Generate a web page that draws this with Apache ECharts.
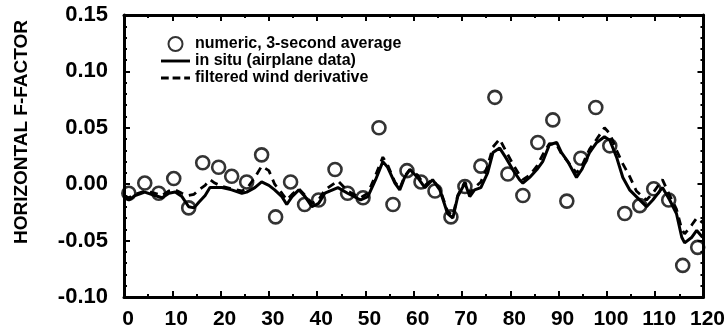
<!DOCTYPE html>
<html>
<head>
<meta charset="utf-8">
<script src="https://cdn.jsdelivr.net/npm/echarts@6/dist/echarts.min.js"></script>
<style>
  html, body { margin: 0; padding: 0; background: #fff; }
  #chart { width: 728px; height: 333px; }
</style>
</head>
<body>
<div id="chart"></div>
<script>
// Time (s) of the traced in-situ / wind-derivative samples
const tSec = [0,1.0,2.3,4.3,6.4,7.9,9.3,10.6,12.0,13.4,14.5,15.5,16.8,17.8,18.8,20.3,22.3,24.4,25.4,27.1,
  28.5,30.0,31.2,32.7,33.7,34.8,36.2,37.5,38.9,40.3,41.6,44.3,46.3,49.0,50.5,52.1,53.6,54.6,56.1,57.1,
  58.1,59.2,60.8,62.3,63.9,65.4,67.0,68.1,69.1,70.6,71.6,72.6,73.9,75.3,76.4,77.8,79.0,80.5,81.9,82.6,
  84.0,85.5,86.7,88.1,89.6,90.6,91.9,93.7,94.8,96.4,97.9,99.5,100.6,102.0,103.3,104.7,106.1,108.2,109.5,111.5,
  113.0,114.4,115.5,116.1,117.6,118.6,119.8];

// F-factor measured in situ (airplane data)
const fInSitu = [-0.011,-0.014,-0.010,-0.007,-0.010,-0.012,-0.008,-0.007,-0.011,-0.020,
  -0.021,-0.016,-0.010,-0.003,-0.003,-0.003,-0.005,-0.008,-0.007,-0.003,
  0.002,-0.001,-0.005,-0.011,-0.018,-0.011,-0.005,-0.011,-0.020,-0.017,
  -0.008,-0.003,-0.008,-0.014,-0.011,0.004,0.020,0.015,0.001,-0.005,
  0.006,0.013,0.006,-0.003,0.004,-0.005,-0.026,-0.030,-0.011,0.001,
  -0.011,-0.005,-0.003,0.010,0.028,0.032,0.024,0.013,0.004,0.001,
  0.006,0.013,0.020,0.035,0.037,0.028,0.020,0.006,0.013,0.028,
  0.037,0.042,0.039,0.024,0.006,-0.005,-0.011,-0.020,-0.014,-0.003,
  -0.014,-0.026,-0.047,-0.052,-0.047,-0.041,-0.047];

// F-factor from the filtered wind derivative
const fFiltered = [-0.010,-0.012,-0.009,-0.006,-0.008,-0.010,-0.006,-0.005,-0.008,-0.010,
  -0.009,-0.005,-0.001,0.004,0.001,-0.002,-0.004,-0.006,-0.004,0.006,
  0.016,0.012,0.000,-0.008,-0.014,-0.009,-0.004,-0.010,-0.017,-0.014,
  -0.005,0.003,-0.006,-0.012,-0.008,0.008,0.024,0.017,0.002,-0.004,
  0.007,0.013,0.008,-0.001,0.004,-0.004,-0.024,-0.028,-0.010,0.002,
  -0.008,-0.003,0.002,0.016,0.033,0.040,0.030,0.018,0.008,0.004,
  0.008,0.016,0.026,0.036,0.035,0.027,0.020,0.010,0.016,0.031,
  0.040,0.050,0.045,0.030,0.018,0.007,-0.006,-0.014,-0.008,0.004,
  -0.010,-0.022,-0.040,-0.044,-0.036,-0.030,-0.034];

// Numeric model, 3-second averages
const tNumeric = [1.0,4.3,7.2,10.3,13.4,16.3,19.6,22.3,25.4,28.5,31.4,34.5,37.4,40.3,43.7,46.3,49.5,52.8,55.7,58.6,
  61.5,64.4,67.7,70.6,73.9,76.8,79.5,82.6,85.7,88.8,91.7,94.6,97.7,100.6,103.7,106.8,109.7,112.8,115.7,118.8];
const fNumeric = [-0.008,0.001,-0.008,0.005,-0.021,0.019,0.015,0.007,0.002,0.026,
  -0.029,0.002,-0.018,-0.014,0.013,-0.008,-0.012,0.050,-0.018,0.012,
  0.002,-0.006,-0.029,-0.002,0.016,0.077,0.009,-0.010,0.037,0.057,
  -0.015,0.023,0.068,0.034,-0.026,-0.019,-0.004,-0.014,-0.072,-0.056];

const seriesNames = ['numeric, 3-second average', 'in situ (airplane data)', 'filtered wind derivative'];
const yTitle = 'HORIZONTAL F-FACTOR';

const pairs = (xs, ys) => xs.map((x, i) => [x, ys[i]]);

const INK = '#000';
const boldFont = "'Liberation Sans', Arial, sans-serif";

// Legend keys: a solid bar and a dashed bar drawn as filled paths
const solidKey = 'path://M0,0h30v3h-30z';
const dashedKey = 'path://M0,0h8v3h-8z M12,0h8v3h-8z M24,0h6v3h-6z';

const frameLine = { show: true, onZero: false, lineStyle: { color: INK, width: 3 } };
const xTicks = {
  axisTick: { show: true, inside: true, length: 6, lineStyle: { color: INK, width: 2 } },
  minorTick: { show: true, splitNumber: 2, length: 3, lineStyle: { color: INK, width: 2 } }
};
const yTicks = {
  axisTick: { show: true, inside: true, length: 6, lineStyle: { color: INK, width: 2 } },
  minorTick: { show: true, splitNumber: 5, length: 3, lineStyle: { color: INK, width: 2 } }
};

const chart = echarts.init(document.getElementById('chart'), null, { renderer: 'canvas' });
chart.setOption({
  backgroundColor: '#fff',
  animation: false,
  grid: { left: 124, right: 24, top: 15, bottom: 36, containLabel: false },
  legend: {
    orient: 'vertical',
    left: 156,
    top: 31,
    itemWidth: 29,
    itemHeight: 14,
    itemGap: 1,
    data: [
      { name: seriesNames[0] },
      { name: seriesNames[1], icon: solidKey, itemStyle: { color: INK } },
      { name: seriesNames[2], icon: dashedKey, itemStyle: { color: INK } }
    ],
    textStyle: { fontFamily: boldFont, fontWeight: 'bold', fontSize: 16, lineHeight: 15, color: INK }
  },
  graphic: [{
    type: 'text',
    x: 22,
    y: 132,
    rotation: Math.PI / 2,
    style: {
      text: yTitle,
      fontFamily: boldFont,
      fontWeight: 'bold',
      fontSize: 19,
      fill: INK,
      textAlign: 'center',
      textVerticalAlign: 'middle'
    }
  }],
  xAxis: [
    Object.assign({
      type: 'value', position: 'bottom', min: 0, max: 120, interval: 10,
      axisLine: frameLine, splitLine: { show: false },
      axisLabel: { margin: 12, padding: [0, 0, 0, 8], color: INK, fontFamily: boldFont, fontWeight: 'bold', fontSize: 21 }
    }, xTicks),
    Object.assign({
      type: 'value', position: 'top', min: 0, max: 120, interval: 10,
      axisLine: frameLine, splitLine: { show: false }, axisLabel: { show: false }
    }, xTicks)
  ],
  yAxis: [
    Object.assign({
      type: 'value', position: 'left', min: -0.10, max: 0.15, interval: 0.05,
      axisLine: frameLine, splitLine: { show: false },
      axisLabel: {
        margin: 16, color: INK, fontFamily: boldFont, fontWeight: 'bold', fontSize: 22,
        formatter: v => v.toFixed(2)
      }
    }, yTicks),
    Object.assign({
      type: 'value', position: 'right', min: -0.10, max: 0.15, interval: 0.05,
      axisLine: frameLine, splitLine: { show: false }, axisLabel: { show: false }
    }, yTicks)
  ],
  series: [
    {
      name: seriesNames[1], type: 'line', xAxisIndex: 0, yAxisIndex: 0,
      data: pairs(tSec, fInSitu), symbol: 'none', z: 3,
      lineStyle: { color: INK, width: 3 }, itemStyle: { color: INK }
    },
    {
      name: seriesNames[2], type: 'line', xAxisIndex: 0, yAxisIndex: 0,
      data: pairs(tSec, fFiltered), symbol: 'none', z: 2,
      lineStyle: { color: INK, width: 2.8, type: [8, 6] }, itemStyle: { color: INK }
    },
    {
      name: seriesNames[0], type: 'scatter', xAxisIndex: 0, yAxisIndex: 0,
      data: pairs(tNumeric, fNumeric), symbol: 'circle', symbolSize: 13, z: 4,
      itemStyle: { color: 'rgba(255,255,255,0)', borderColor: INK, borderWidth: 2.6 }
    }
  ]
});
</script>
</body>
</html>
